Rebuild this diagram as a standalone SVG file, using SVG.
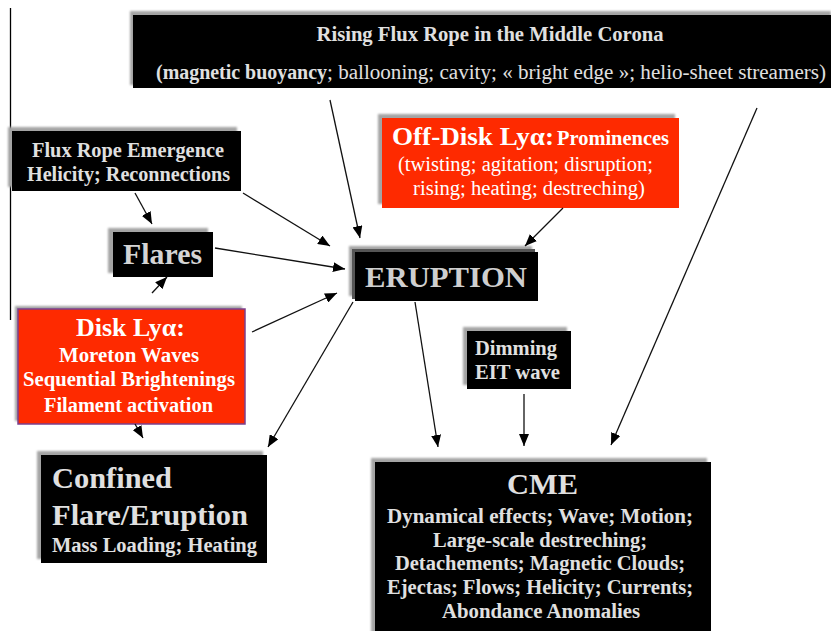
<svg xmlns="http://www.w3.org/2000/svg" width="831" height="631" viewBox="0 0 831 631">
<defs>
<style>
.sh{fill:#a4a4a4;filter:url(#soft)}
.bk{fill:#000}
.rd{fill:#fe2a00}
.t{font-family:"Liberation Serif","Times New Roman",serif;font-weight:bold;fill:#e0e0e0}
.w{font-family:"Liberation Serif","Times New Roman",serif;fill:#ffffff}
.reg{font-weight:normal}
.b{font-weight:bold}
.c{text-anchor:middle}
.s20{font-size:20px}
.s25{font-size:25px}
.s30{font-size:30px}
.con line{stroke:#111;stroke-width:1.3;fill:none;marker-end:url(#ah)}
</style>
<filter id="soft" x="-5%" y="-5%" width="110%" height="110%">
<feGaussianBlur stdDeviation="0.8"/>
</filter>
<marker id="ah" viewBox="0 0 12 10" refX="12" refY="5" markerWidth="12" markerHeight="10" markerUnits="userSpaceOnUse" orient="auto">
<path d="M0,0 L12,5 L0,10 Z" fill="#000"/>
</marker>
</defs>
<rect width="831" height="631" fill="#fff"/>
<line x1="10.5" y1="8" x2="10.5" y2="320" stroke="#000" stroke-width="1.3"/>

<g id="rising-flux-rope">
<rect class="sh" x="130" y="11" width="701" height="74"/>
<rect class="bk" x="133" y="15" width="698" height="73"/>
<text class="t c s20" x="490" y="41" textLength="347" lengthAdjust="spacingAndGlyphs">Rising Flux Rope in the Middle Corona</text>
<text class="t s20" x="156" y="79" textLength="171" lengthAdjust="spacingAndGlyphs">(magnetic buoyancy</text>
<text class="t reg s20" x="327" y="79" textLength="499" lengthAdjust="spacingAndGlyphs">; ballooning; cavity; « bright edge »; helio-sheet streamers)</text>
</g>

<g id="flux-rope-emergence">
<rect class="sh" x="8" y="127" width="229" height="60"/>
<rect class="bk" x="12" y="131" width="229" height="60"/>
<text class="t c s20" x="128" y="157" textLength="192" lengthAdjust="spacingAndGlyphs">Flux Rope Emergence</text>
<text class="t c s20" x="128.5" y="181" textLength="203" lengthAdjust="spacingAndGlyphs">Helicity; Reconnections</text>
</g>

<g id="flares">
<rect class="sh" x="108" y="228" width="100" height="45"/>
<rect class="bk" x="113" y="232" width="100" height="45"/>
<text class="t c s30" x="162.5" y="264" textLength="79" lengthAdjust="spacingAndGlyphs" style="fill:#d4d4d4">Flares</text>
</g>

<g id="eruption">
<rect class="sh" x="349" y="246" width="183" height="50"/>
<rect fill="#555" x="352" y="249" width="183" height="50"/>
<rect class="bk" x="355" y="252" width="183" height="49"/>
<text class="t c s30" x="446" y="287" textLength="162" lengthAdjust="spacingAndGlyphs" style="fill:#cfcfcf">ERUPTION</text>
</g>

<g id="off-disk-lya">
<rect class="sh" x="378" y="114" width="297" height="90"/>
<rect class="rd" x="382" y="118" width="297" height="90"/>
<text class="w b s25" x="392" y="145" textLength="162" lengthAdjust="spacingAndGlyphs">Off-Disk Lyα:</text>
<text class="w b s20" x="557" y="145" textLength="112" lengthAdjust="spacingAndGlyphs">Prominences</text>
<text class="w c s20" x="525.5" y="171" textLength="255" lengthAdjust="spacingAndGlyphs">(twisting; agitation; disruption;</text>
<text class="w c s20" x="529" y="195" textLength="232" lengthAdjust="spacingAndGlyphs">rising; heating; destreching)</text>
</g>

<g id="disk-lya">
<rect class="sh" x="15" y="306" width="227" height="115"/>
<rect class="rd" x="18" y="309" width="227" height="115" stroke="#7b3f8c" stroke-width="1.5"/>
<text class="w b c s25" x="130.5" y="336" textLength="109" lengthAdjust="spacingAndGlyphs">Disk Lyα:</text>
<text class="w b c s20" x="129" y="362" textLength="140" lengthAdjust="spacingAndGlyphs">Moreton Waves</text>
<text class="w b c s20" x="129" y="386" textLength="212" lengthAdjust="spacingAndGlyphs">Sequential Brightenings</text>
<text class="w b c s20" x="128.5" y="412" textLength="169" lengthAdjust="spacingAndGlyphs">Filament activation</text>
</g>

<g id="confined">
<rect class="sh" x="37" y="451" width="226" height="108"/>
<rect class="bk" x="41" y="455" width="226" height="108"/>
<text class="t s30" x="52" y="488" textLength="120" lengthAdjust="spacingAndGlyphs">Confined</text>
<text class="t s30" x="52" y="525" textLength="196" lengthAdjust="spacingAndGlyphs">Flare/Eruption</text>
<text class="t s20" x="52" y="552" textLength="205" lengthAdjust="spacingAndGlyphs">Mass Loading; Heating</text>
</g>

<g id="dimming">
<rect class="sh" x="463" y="327" width="104" height="58"/>
<rect class="bk" x="467" y="331" width="104" height="58"/>
<text class="t c s20" x="516" y="355" textLength="82" lengthAdjust="spacingAndGlyphs">Dimming</text>
<text class="t c s20" x="517.5" y="379" textLength="85" lengthAdjust="spacingAndGlyphs">EIT wave</text>
</g>

<g id="cme">
<rect class="sh" x="371" y="458" width="336" height="175"/>
<rect class="bk" x="375" y="462" width="336" height="170"/>
<text class="t c s30" x="542.5" y="494" textLength="71" lengthAdjust="spacingAndGlyphs">CME</text>
<text class="t c s20" x="540" y="523" textLength="306" lengthAdjust="spacingAndGlyphs">Dynamical effects; Wave; Motion;</text>
<text class="t c s20" x="540" y="547" textLength="214" lengthAdjust="spacingAndGlyphs">Large-scale destreching;</text>
<text class="t c s20" x="540" y="570" textLength="290" lengthAdjust="spacingAndGlyphs">Detachements; Magnetic Clouds;</text>
<text class="t c s20" x="540" y="594" textLength="306" lengthAdjust="spacingAndGlyphs">Ejectas; Flows; Helicity; Currents;</text>
<text class="t c s20" x="541" y="618" textLength="198" lengthAdjust="spacingAndGlyphs">Abondance Anomalies</text>
</g>

<g id="connectors" class="con">
<line x1="135" y1="193" x2="152" y2="224"/>
<line x1="243" y1="193" x2="330" y2="246"/>
<line x1="330" y1="100" x2="360" y2="238"/>
<line x1="215" y1="248" x2="345" y2="269"/>
<line x1="563" y1="208" x2="525" y2="246"/>
<line x1="252" y1="332" x2="337" y2="293"/>
<line x1="353" y1="302" x2="268" y2="447"/>
<line x1="152" y1="293" x2="167" y2="277"/>
<line x1="135" y1="424" x2="143" y2="438"/>
<line x1="415" y1="302" x2="438" y2="447"/>
<line x1="524" y1="394" x2="524" y2="446"/>
<line x1="757" y1="108" x2="611" y2="445"/>
</g>
</svg>
